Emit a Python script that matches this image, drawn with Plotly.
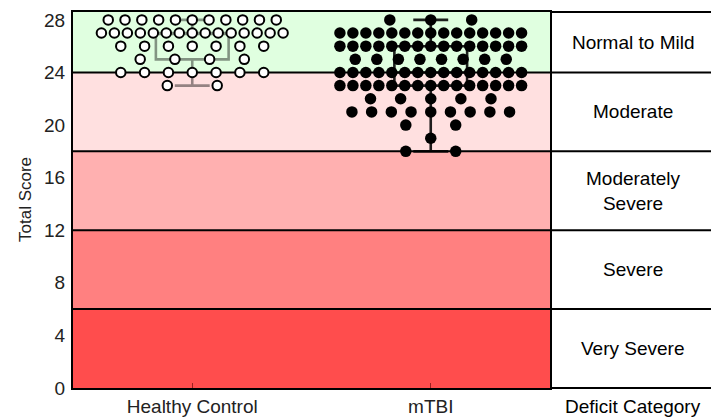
import numpy as np
import plotly.graph_objects as go

# ---------------- data ----------------
groups = ["Healthy Control", "mTBI"]

hc_scores = [28, 27, 26, 25, 24, 23]
hc_counts = [11, 15, 7, 4, 7, 2]

tbi_scores = [28, 27, 26, 25, 24, 23, 22, 21, 20, 19, 18]
tbi_counts = [3, 15, 15, 8, 15, 15, 5, 9, 2, 1, 2]

band_low = [24, 18, 12, 6, 0]
band_high = [28.6, 24, 18, 12, 6]
band_names = ["Normal to Mild", "Moderate", "Moderately<br>Severe", "Severe", "Very Severe"]
band_colors = ["#e0ffe0", "#ffe0e0", "#ffb0b0", "#ff8080", "#ff4d4d"]

y_ticks = [0, 4, 8, 12, 16, 20, 24, 28]
y_range = [0, 28.6]
table_title = "Deficit Category"
y_title = "Total Score"

FONT = "Arial, Liberation Sans, sans-serif"


def swarm(center, scores, counts):
    xs, ys = [], []
    for s, n in zip(scores, counts):
        if n == 1:
            offs = [0.0]
        else:
            w = 0.956 * (n - 1) / (n + 2.57)
            offs = np.linspace(-w / 2, w / 2, n)
        for o in offs:
            xs.append(center + o)
            ys.append(s)
    return xs, ys


fig = go.Figure()

# box plots (drawn first, beneath the points)
box_styles = ["rgba(0,0,0,0.42)", "rgba(0,0,0,0.88)"]
for i, (scores, counts) in enumerate([(hc_scores, hc_counts), (tbi_scores, tbi_counts)]):
    vals = np.repeat(scores, counts)
    fig.add_trace(go.Box(
        x=[i] * len(vals), y=vals,
        boxpoints=False, width=0.305, whiskerwidth=0.48,
        line=dict(color=box_styles[i], width=2.6),
        fillcolor="rgba(0,0,0,0)",
        quartilemethod="linear",
        hoverinfo="skip", showlegend=False,
    ))

# swarm points
hx, hy = swarm(0, hc_scores, hc_counts)
fig.add_trace(go.Scatter(
    x=hx, y=hy, mode="markers", showlegend=False,
    marker=dict(size=9.5, color="white", line=dict(color="black", width=2)),
))
tx, ty = swarm(1, tbi_scores, tbi_counts)
fig.add_trace(go.Scatter(
    x=tx, y=ty, mode="markers", showlegend=False,
    marker=dict(size=11.5, color="black", line=dict(width=0)),
))

shapes = []
# colored bands
for lo, hi, c in zip(band_low, band_high, band_colors):
    shapes.append(dict(type="rect", xref="paper", yref="y", x0=0, x1=1, y0=lo, y1=hi,
                       fillcolor=c, line=dict(width=0), layer="below"))
# boundary lines (span plot + table)
for lo in band_low[:-1]:
    shapes.append(dict(type="line", xref="paper", yref="y", x0=0, x1=1.45, y0=lo, y1=lo,
                       line=dict(color="black", width=2), layer="below"))
# table top and bottom lines
for yy in [0, 1]:
    shapes.append(dict(type="line", xref="paper", yref="paper", x0=1, x1=1.45, y0=yy, y1=yy,
                       line=dict(color="black", width=2), layer="below"))

annotations = []
for lo, hi, name in zip(band_low, band_high, band_names):
    annotations.append(dict(x=1.174, xref="paper", y=(lo + hi) / 2, yref="y",
                            text=name, showarrow=False, xanchor="center", yanchor="middle",
                            font=dict(family=FONT, size=19, color="black")))
annotations.append(dict(x=1.174, xref="paper", y=0, yref="paper", text=table_title,
                        showarrow=False, xanchor="center", yanchor="top", yshift=-6,
                        font=dict(family=FONT, size=19, color="black")))
annotations.append(dict(x=0, xref="paper", xshift=25 - 73, y=0.5, yref="paper", text=y_title,
                        showarrow=False, textangle=-90, xanchor="center", yanchor="middle",
                        font=dict(family=FONT, size=17, color="#222")))

fig.update_layout(
    width=711, height=419,
    margin=dict(l=73, r=161, t=12, b=31, autoexpand=False),
    paper_bgcolor="white", plot_bgcolor="white",
    font=dict(family=FONT, size=19, color="#222"),
    shapes=shapes, annotations=annotations,
    showlegend=False,
    xaxis=dict(range=[-0.5, 1.5], tickvals=[0, 1], ticktext=groups,
               automargin=False,
               showgrid=False, zeroline=False,
               showline=True, linecolor="black", linewidth=2, mirror=True,
               ticks="inside", ticklen=5, tickwidth=1, tickcolor="#9a2020",
               ticklabelstandoff=0,
               tickfont=dict(family=FONT, size=19, color="#222")),
    yaxis=dict(range=y_range, tickvals=y_ticks, showgrid=False, zeroline=False,
               automargin=False,
               showline=True, linecolor="black", linewidth=2, mirror=True,
               ticks="", ticklabelstandoff=2,
               tickfont=dict(family=FONT, size=19, color="#222")),
)

fig.write_html("out.html", config={"displayModeBar": False},
               post_script="document.body.style.margin='0';")
